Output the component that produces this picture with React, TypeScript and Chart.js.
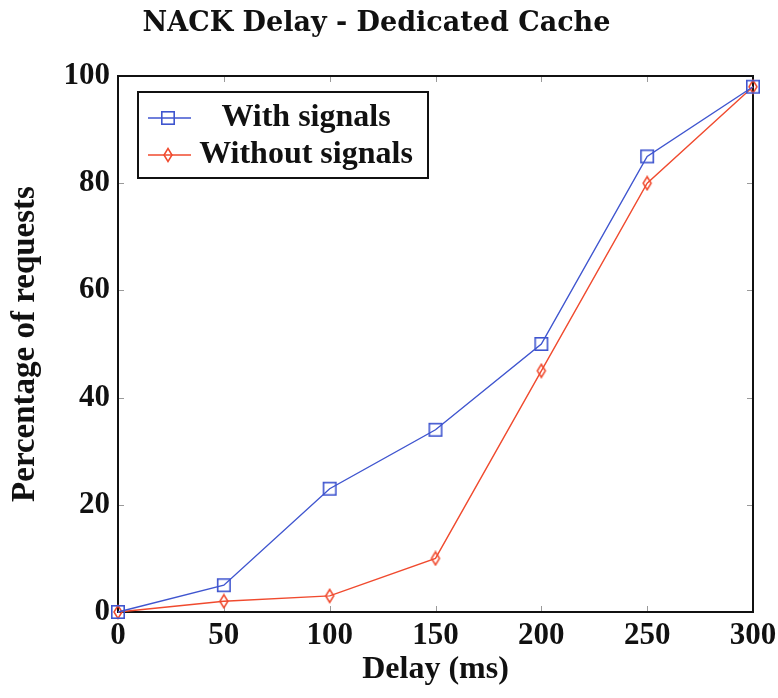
import React, { useEffect, useRef } from "react";
import { Chart, registerables } from "chart.js";

Chart.register(...registerables);

const titleText = "NACK Delay - Dedicated Cache";
const xLabel = "Delay (ms)";
const yLabel = "Percentage of requests";
const delays = [0, 50, 100, 150, 200, 250, 300];
const withSignals = [0, 5, 23, 34, 50, 85, 98];
const withoutSignals = [0, 2, 3, 10, 45, 80, 98];
const seriesNames = ["With signals", "Without signals"];

const BLUE = "#3f55cf";
const RED = "#f04a2e";
const LABEL_FONT = "'Liberation Serif', serif";
const TITLE_FONT = "'DejaVu Serif', serif";

function makeSquare(color: string): HTMLCanvasElement {
  const c = document.createElement("canvas");
  c.width = 16;
  c.height = 16;
  const ctx = c.getContext("2d")!;
  ctx.strokeStyle = color;
  ctx.lineWidth = 1.6;
  ctx.strokeRect(1.8, 1.8, 12.4, 12.4);
  return c;
}

function makeDiamond(color: string): HTMLCanvasElement {
  const c = document.createElement("canvas");
  c.width = 12;
  c.height = 16;
  const ctx = c.getContext("2d")!;
  ctx.strokeStyle = color;
  ctx.lineWidth = 1.5;
  ctx.beginPath();
  ctx.moveTo(6, 1.5);
  ctx.lineTo(10, 8);
  ctx.lineTo(6, 14.5);
  ctx.lineTo(2, 8);
  ctx.closePath();
  ctx.stroke();
  return c;
}

const frameAndTicks = {
  id: "frameAndTicks",
  beforeDatasetsDraw(chart: any) {
    const { ctx, chartArea, scales } = chart;
    const { left, right, top, bottom } = chartArea;
    ctx.save();
    ctx.strokeStyle = "#9a9a9a";
    ctx.lineWidth = 1;
    const len = 6;
    scales.x.ticks.forEach((t: any) => {
      const px = Math.round(scales.x.getPixelForValue(t.value)) + 0.5;
      ctx.beginPath();
      ctx.moveTo(px, bottom);
      ctx.lineTo(px, bottom - len);
      ctx.moveTo(px, top);
      ctx.lineTo(px, top + len);
      ctx.stroke();
    });
    scales.y.ticks.forEach((t: any) => {
      const py = Math.round(scales.y.getPixelForValue(t.value)) + 0.5;
      ctx.beginPath();
      ctx.moveTo(left, py);
      ctx.lineTo(left + len, py);
      ctx.moveTo(right, py);
      ctx.lineTo(right - len, py);
      ctx.stroke();
    });
    ctx.strokeStyle = "#111";
    ctx.lineWidth = 2;
    ctx.strokeRect(left, top, right - left, bottom - top);
    ctx.restore();
  },
};

const boxLegend = {
  id: "boxLegend",
  afterDatasetsDraw(chart: any) {
    const { ctx, chartArea } = chart;
    const bx = chartArea.left + 20;
    const by = chartArea.top + 16;
    const bw = 290;
    const bh = 86;
    ctx.save();
    ctx.fillStyle = "#fff";
    ctx.fillRect(bx, by, bw, bh);
    ctx.strokeStyle = "#111";
    ctx.lineWidth = 2;
    ctx.strokeRect(bx, by, bw, bh);
    const rows = [by + 26, by + 63];
    chart.data.datasets.forEach((ds: any, i: number) => {
      const y = rows[i];
      ctx.strokeStyle = ds.borderColor;
      ctx.lineWidth = 1.4;
      ctx.beginPath();
      ctx.moveTo(bx + 10, y);
      ctx.lineTo(bx + 53, y);
      ctx.stroke();
      const img = ds.pointStyle as HTMLCanvasElement;
      ctx.drawImage(img, bx + 30 - img.width / 2, y - img.height / 2);
      ctx.fillStyle = "#111";
      ctx.font = `bold 32px ${LABEL_FONT}`;
      ctx.textAlign = "center";
      ctx.textBaseline = "middle";
      ctx.fillText(ds.label, bx + 168, y);
    });
    ctx.restore();
  },
};

export default function App() {
  const ref = useRef<HTMLCanvasElement>(null);
  useEffect(() => {
    if (!ref.current) return;
    const chart = new Chart(ref.current, {
      type: "line",
      data: {
        datasets: [
          {
            label: seriesNames[0],
            data: delays.map((d, i) => ({ x: d, y: withSignals[i] })),
            borderColor: BLUE,
            borderWidth: 1.4,
            pointStyle: makeSquare(BLUE) as any,
            pointRadius: 7,
            clip: false as any,
            tension: 0,
          },
          {
            label: seriesNames[1],
            data: delays.map((d, i) => ({ x: d, y: withoutSignals[i] })),
            borderColor: RED,
            borderWidth: 1.4,
            pointStyle: makeDiamond(RED) as any,
            pointRadius: 7,
            clip: false as any,
            tension: 0,
          },
        ],
      },
      options: {
        animation: false,
        responsive: false,
        layout: { padding: { left: 0, right: 25, top: 0, bottom: 0 } },
        plugins: {
          legend: { display: false },
          tooltip: { enabled: false },
          title: {
            display: true,
            text: titleText,
            color: "#111",
            font: { family: TITLE_FONT, size: 27, weight: "bold", lineHeight: 1.2 },
            padding: { top: 8, bottom: 35.6 },
          },
        },
        scales: {
          x: {
            type: "linear",
            min: 0,
            max: 300,
            grid: { display: false, drawTicks: false },
            border: { display: false },
            ticks: {
              stepSize: 50,
              color: "#111",
              padding: 5,
              font: { family: LABEL_FONT, size: 31, weight: "bold" },
              maxRotation: 0,
            },
            title: {
              display: true,
              text: xLabel,
              color: "#111",
              font: { family: LABEL_FONT, size: 32, weight: "bold", lineHeight: 1.2 },
              padding: { top: 0, bottom: 9 },
            },
            afterFit: (s: any) => {
              s.height = 86;
              s.paddingLeft = 0;
              s.paddingRight = 0;
            },
          },
          y: {
            type: "linear",
            min: 0,
            max: 100,
            grid: { display: false, drawTicks: false },
            border: { display: false },
            ticks: {
              stepSize: 20,
              color: "#111",
              padding: 8,
              font: { family: LABEL_FONT, size: 31, weight: "bold" },
            },
            title: {
              display: true,
              text: yLabel,
              color: "#111",
              font: { family: LABEL_FONT, size: 33, weight: "bold", lineHeight: 1.2 },
              padding: { top: 6, bottom: 0 },
            },
            afterFit: (s: any) => {
              s.width = 118;
              s.paddingTop = 0;
              s.paddingBottom = 0;
            },
          },
        },
      },
      plugins: [frameAndTicks, boxLegend],
    });
    return () => chart.destroy();
  }, []);
  return (
    <div style={{ position: "fixed", left: 0, top: 0, width: 778, height: 698, background: "#fff" }}>
      <canvas ref={ref} width={778} height={698} style={{ width: 778, height: 698, display: "block" }} />
    </div>
  );
}
